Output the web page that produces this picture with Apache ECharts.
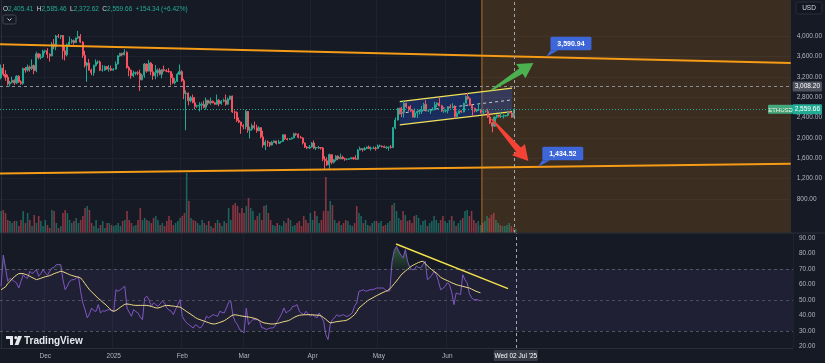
<!DOCTYPE html>
<html><head><meta charset="utf-8">
<script src="https://cdn.jsdelivr.net/npm/echarts@6/dist/echarts.min.js"></script>
<style>html,body{margin:0;padding:0;background:#161a25;overflow:hidden}#c{width:825px;height:363px}</style>
</head><body><div id="c"></div>
<script>
// ---------------- DATA ----------------
const startDate = '2024-11-11';
const dayCount = 359;
const tickDates = ['2024-12-01','2025-01-01','2025-02-01','2025-03-01','2025-04-01','2025-05-01','2025-06-01'];
const tickTexts = ['Dec','2025','Feb','Mar','Apr','May','Jun'];
const priceTicks = [800,1200,1600,2000,2400,2800,3200,3600,4000];
const rsiTicks = [20,30,40,50,60,70,80,90];

// [open, close, low, high]
const candles = [
[3180,3370,3150,3440],[3370,3250,3210,3450],[3250,3190,3120,3330],[3190,3060,3030,3240],[3060,3090,3010,3120],
[3090,3130,3070,3200],[3130,3080,3040,3150],[3080,3210,3060,3230],[3210,3100,3080,3230],[3100,3070,3040,3130],
[3070,3360,3040,3380],[3360,3330,3280,3390],[3330,3390,3300,3440],[3390,3360,3300,3420],[3360,3420,3330,3540],
[3420,3320,3250,3440],[3320,3650,3290,3690],[3650,3580,3540,3660],[3580,3590,3540,3650],[3590,3700,3570,3730],
[3700,3710,3660,3730],[3710,3640,3560,3760],[3640,3610,3500,3660],[3610,3840,3600,3880],[3840,3790,3740,3940],
[3790,4000,3720,4020],[4000,3990,3960,4040],[3990,4010,3940,4020],[4010,3710,3540,4010],[3710,3630,3520,3790],
[3630,3830,3600,3850],[3830,3880,3820,3990],[3880,3910,3850,3940],[3910,3870,3830,3930],[3870,3960,3860,3970],
[3960,3990,3940,4100],[3990,3880,3860,4040],[3880,3620,3570,3900],[3620,3420,3380,3710],[3420,3470,3100,3490],
[3470,3330,3320,3550],[3330,3280,3230,3360],[3280,3420,3220,3440],[3420,3490,3400,3540],[3490,3490,3450,3520],
[3490,3330,3310,3520],[3330,3330,3300,3430],[3330,3400,3320,3420],[3400,3350,3340,3410],[3350,3360,3300,3430],
[3360,3330,3310,3420],
[3330,3350,3320,3370],[3350,3450,3340,3500],[3450,3610,3440,3620],[3610,3660,3590,3670],[3660,3630,3600,3670],
[3630,3680,3620,3740],[3680,3380,3360,3700],[3380,3330,3210,3410],[3330,3220,3160,3340],[3220,3270,3190,3320],
[3270,3280,3230,3300],[3280,3270,3230,3310],[3270,3140,2920,3340],[3140,3230,3130,3260],[3230,3450,3180,3470],
[3450,3310,3280,3460],[3310,3470,3310,3530],[3470,3300,3230,3490],[3300,3220,3140,3450],[3220,3280,3150,3430],
[3280,3330,3200,3360],[3330,3250,3230,3370],[3250,3340,3170,3350],[3340,3320,3300,3420],[3320,3310,3290,3350],
[3310,3300,3280,3370],[3300,3180,3030,3310],[3180,3080,3060,3260],[3080,3110,3050,3170],[3110,3250,3100,3280],
[3250,3300,3240,3440],
[3300,3120,3100,3330],[3120,2870,2760,3160],[2870,2880,2150,2930],[2880,2730,2640,2890],[2730,2790,2700,2820],
[2790,2690,2680,2850],[2690,2620,2560,2800],[2620,2630,2590,2650],[2630,2640,2520,2700],[2640,2660,2560,2700],
[2660,2600,2580,2730],[2600,2740,2550,2790],[2740,2680,2640,2740],[2680,2720,2650,2790],[2720,2690,2680,2730],
[2690,2660,2650,2700],[2660,2740,2650,2850],[2740,2670,2620,2760],[2670,2720,2650,2740],[2720,2740,2700,2770],
[2740,2660,2630,2850],[2660,2760,2650,2790],[2760,2820,2740,2830],[2820,2510,2490,2830],[2510,2500,2370,2540],
[2500,2340,2310,2520],[2340,2310,2290,2400],[2310,2240,2080,2320],
[2240,2220,2170,2270],[2220,2520,2170,2550],[2520,2150,2100,2530],[2150,2170,1990,2220],[2170,2240,2140,2280],
[2240,2200,2160,2320],[2200,2140,2100,2260],[2140,2200,2130,2230],[2200,2020,1990,2210],[2020,1860,1810,2140],
[1860,1920,1760,1960],[1920,1910,1830,1950],[1910,1860,1820,1920],[1860,1910,1850,1940],[1910,1940,1900,1950],
[1940,1890,1870,1940],[1890,1920,1880,1960],[1920,1930,1890,1940],[1930,2060,1920,2070],[2060,1980,1960,2070],
[1980,1970,1950,2000],[1970,1980,1960,2000],[1980,2000,1970,2010],[2000,2080,1990,2100],[2080,2070,2040,2100],
[2070,2010,1990,2090],[2010,2000,1990,2040],[2000,1900,1870,2010],[1900,1820,1800,1910],[1820,1800,1780,1840],
[1800,1820,1780,1860],
[1820,1900,1810,1920],[1900,1800,1780,1950],[1800,1810,1760,1830],[1810,1810,1780,1840],[1810,1800,1770,1820],
[1800,1580,1540,1820],[1580,1550,1390,1640],[1550,1470,1450,1620],[1470,1670,1390,1690],[1670,1520,1480,1670],
[1520,1570,1500,1580],[1570,1640,1540,1660],[1640,1590,1560,1660],[1590,1620,1580,1690],[1620,1590,1580,1650],
[1590,1580,1550,1610],[1580,1580,1560,1600],[1580,1590,1570,1600],[1590,1610,1580,1620],[1610,1590,1570,1620],
[1590,1580,1570,1660],[1580,1760,1570,1780],[1760,1790,1760,1830],[1790,1770,1730,1790],[1770,1790,1750,1820],
[1790,1820,1780,1830],[1820,1790,1780,1850],[1790,1800,1750,1830],[1800,1800,1780,1830],[1800,1790,1750,1830],
[1790,1840,1790,1870],[1840,1840,1820,1870],[1840,1830,1810,1850],[1830,1810,1800,1850],[1810,1820,1780,1830],
[1820,1820,1750,1830],[1820,1810,1790,1860],[1810,2200,1800,2210],[2200,2350,2170,2400],[2350,2580,2340,2590],
[2580,2510,2460,2590],[2510,2500,2410,2610],[2500,2680,2400,2730],[2680,2610,2580,2690],[2610,2550,2520,2620],
[2550,2540,2510,2640],[2540,2410,2400,2560],[2410,2490,2390,2580],[2490,2520,2390,2530],[2520,2520,2460,2560],
[2520,2550,2470,2630],[2550,2660,2540,2690],[2660,2530,2520,2740],[2530,2530,2510,2560],[2530,2550,2470,2560],
[2550,2560,2540,2600],[2560,2650,2540,2710],[2650,2680,2600,2700],[2680,2630,2620,2790],[2630,2530,2510,2650],
[2530,2530,2490,2550],
[2530,2540,2500,2560],[2540,2610,2480,2620],[2610,2590,2580,2660],[2590,2610,2580,2680],[2610,2420,2380,2640],
[2420,2480,2400,2520],[2480,2530,2470,2540],[2530,2510,2490,2540],[2510,2680,2500,2690],[2680,2810,2680,2830],
[2810,2770,2750,2880],[2770,2640,2630,2790],[2640,2580,2440,2640],[2580,2530,2500,2590],[2530,2550,2510,2560],
[2550,2550,2530,2680],[2550,2510,2480,2570],[2510,2520,2470,2540],[2520,2520,2500,2540],[2520,2410,2390,2570],
[2410,2300,2270,2440],[2300,2230,2110,2310],[2230,2410,2220,2420],[2410,2450,2380,2460],[2450,2420,2400,2450],
[2420,2420,2390,2500],[2420,2430,2380,2460],[2430,2440,2420,2450],[2440,2510,2420,2520],[2510,2490,2480,2530],
[2490,2405.41,2390,2510],[2405.41,2559.66,2372.62,2585.46]
];

// volume, thousands
const volumes = [
440,460,400,260,240,200,240,240,140,260,
440,200,400,260,140,360,200,340,240,140,
260,160,100,460,440,200,100,140,400,460,
400,260,200,240,300,200,260,340,500,540,
460,200,140,260,100,160,240,100,200,200,160,
140,160,200,140,240,260,440,260,200,140,160,
260,500,260,300,260,240,200,300,340,260,160,
200,140,240,340,260,160,200,240,300,
340,400,1200,640,300,260,240,200,160,
260,200,160,240,140,100,200,260,200,140,
240,200,500,260,560,600,540,400,500,400,
540,700,500,440,260,340,400,260,540,560,
400,260,160,140,200,160,140,240,200,300,
260,140,160,200,240,140,340,260,200,400,
260,440,340,200,260,440,1120,440,640,560,
260,200,240,160,200,260,240,160,140,200,
540,400,340,200,260,160,140,200,240,240,
200,240,140,160,200,240,560,600,440,300,
260,440,360,240,260,200,340,360,300,160,
240,260,140,200,240,340,260,200,260,340,240,
200,260,340,240,140,200,260,300,440,460,340,
440,260,200,240,160,200,240,340,300,360,
400,260,200,160,140,140,160,200,140,100,84.11
];

const rsi = [
58.8,79,70.6,62,64,63,62,61,57.7,62,
66.3,64.5,64,68.5,67,68,69.6,65.3,67,69.6,
67.4,66,68.5,70.6,71,72.8,72.8,72.8,63.1,56.6,
59,62,63,63.1,64,65.3,55.6,48,43.8,38.4,
41,44.8,43,42.7,47,41.6,43,42.7,43.5,43.8,
43,42.7,56.6,55.6,56.6,57.7,58.8,44.8,42,39.5,
43.8,42.5,41.6,39,37.3,51.3,52.4,50,45.9,48.1,
47,45.9,47.5,49.2,48.1,44.8,43.5,42.7,40.5,44,
47,50.2,39.5,37,35.2,34.1,33,31.9,34.1,33,
31.9,33,36,39.5,38.4,39.5,40.5,40,39.5,42.7,
42,41.6,44.8,48.5,49.2,39.5,36,34.1,30.9,30,
28.7,44.8,34.1,36,37.3,37.3,37.3,36.2,32,31.9,
30.9,31.5,31.9,31.9,33,36,38.4,41,44.8,41.6,
42.7,43.5,45.9,46,47,42.7,41.5,40.5,42.7,41,
39.5,40.5,39.5,38.4,41.6,39,36.2,27.6,24.4,34.1,
37.3,38.5,40.5,39.5,40,40.5,39.5,39.5,40.5,41.6,
46,48.1,55.6,56,56.6,55.6,56,56.6,56.6,57,
57.7,57.7,57.7,57.7,56.5,55.6,56,75,82,84.6,
81.4,79,77.1,82.5,75,71,69.6,69.6,71.8,71,
70.7,73,75,63.1,64.2,66,68.5,66.3,62,56.6,
57.5,58.8,61,59.9,55,47,54.5,54,53.5,66.3,
63,61,54,51.3,50.2,50.2,50,49.26
];

const rsiMa = [
56.6,57.5,58.5,60.5,62,63.5,65,66,67,67,
67,66.5,66,65.3,64.5,63.8,63.1,63.5,64,64.5,
65,65.3,65.7,66.3,67,67.5,68,68.5,68.2,67.6,
67,66.3,65.8,65.4,65,64.6,64.2,62.5,60.5,58.5,
56.6,55.2,53.8,52.4,51,49.8,48.5,47.4,46,44.6,
43.3,42.7,43.2,44.2,45.3,46.3,47.2,47.4,47.2,46.9,
46.6,46.5,46.5,46.5,46.5,46.5,46.5,46.2,45.8,45.4,
44.9,44.8,45.2,45.8,46.3,46.5,46.4,46.2,46,45.8,
45.6,45.4,44.5,43.5,42.5,41.6,40.6,39.6,38.6,37.8,
37.3,36.8,36.3,35.8,35.3,34.8,34.5,34.6,35,35.5,
36,36.6,37.5,38.5,39.5,40.3,40.4,40.2,39.9,39.6,
39.4,39.2,39,38.7,38.4,38,37.5,36.7,35.8,35.2,
35,34.7,34.5,34.5,34.6,34.9,35.2,35.6,36,36.3,
36.6,37.3,38.2,39,39.6,40.1,40.3,40.4,40.5,40.5,
40.5,40.4,40.3,40.2,40.1,39.6,38.6,37.5,36.2,35.2,
35.4,35.7,36,36.2,36.4,36.6,36.7,37.3,38.2,39.3,
40.5,42.5,44.8,46,47.2,48.4,49.6,50.4,51.2,52,
52.8,53.5,54.2,54.9,55.5,56.1,57.2,58.8,60.5,62.2,
64,66,67.4,68.6,69.8,71,72,72.8,73.5,74.2,
74.7,75,73.5,72,70.7,69.5,68.4,67.4,66,64.6,
63.8,63.1,62.5,61.8,61.1,60.5,59.9,59.5,59.1,58.8,
58.4,58,57.7,57,56.3,55.6,55.1,54.61
];

const lastPrice = 2559.66;
const crossPrice = 3008.20;
const crossDate = '2025-07-02';
const crossLabel = "Wed 02 Jul '25";
const lastVolume = 84.11;
const header = ['2,405.41','2,585.46','2,372.62','2,559.66','+154.34 (+6.42%)'];

// drawings in (day index, price) space
const trendLines = [[-0.5,3840,358.5,3470],[-0.5,1300,358.5,1490]];
const channel = [[181,2712,232,2975,2255,2516]];
const arrows = [[222.7,2940,241.7,3470],[222.7,2370,239.4,1546]];
const arrowColors = ['#4caf50','#f44336'];
const callouts = [[247.6,3590.94],[243.9,1434.52]];
const calloutTexts = ['3,590.94','1,434.52'];
const projection = [[218.3,2000]];
const rsiTrend = [[178.8,86.1,229.5,57.3]];

// ---------------- CHART ----------------
const up = '#22ab94', down = '#f7525f', txt = '#b2b5be', gridCol = '#1e2230';
const FONT = '"Liberation Sans", Arial, sans-serif';
const dates = [];
const d0 = new Date(startDate + 'T00:00:00Z');
for (let i = 0; i < dayCount; i++) dates.push(new Date(d0.getTime() + i * 86400000).toISOString().slice(0, 10));
const fmt = v => Number(v).toLocaleString('en-US', {minimumFractionDigits: 2, maximumFractionDigits: 2});
const isTick = (i, v) => tickDates.indexOf(v) >= 0;

const volData = volumes.map((v, i) => ({value: v, itemStyle: {color: candles[i][1] >= candles[i][0] ? 'rgba(34,171,148,0.5)' : 'rgba(247,82,95,0.5)'}}));
const obData = rsi.map(v => v > 70 ? v : 70);

const tagLabel = (text, bg, color) => ({show: true, position: 'end', formatter: text, backgroundColor: bg, color: color || '#fff',
  fontSize: 6.5, fontFamily: FONT, padding: [2, 2, 1, 2], distance: 2, borderRadius: 1});
const hidden = {opacity: 0};

const chart = echarts.init(document.getElementById('c'), null, {renderer: 'canvas'});
const option = {
  backgroundColor: '#161a25',
  animation: false,
  textStyle: {fontFamily: FONT},
  grid: [
    {left: 0, right: 32, top: 0, height: 233},
    {left: 0, right: 32, top: 100, height: 133},
    {left: 0, right: 32, top: 233, height: 115}
  ],
  xAxis: [
    {type: 'category', gridIndex: 0, data: dates, boundaryGap: true, axisLine: {show: false}, axisTick: {show: false}, axisLabel: {show: false},
      splitLine: {show: true, interval: isTick, lineStyle: {color: gridCol}}},
    {type: 'value', gridIndex: 0, min: -0.5, max: dayCount - 0.5, show: false},
    {type: 'category', gridIndex: 1, data: dates, boundaryGap: true, show: false},
    {type: 'category', gridIndex: 2, data: dates, boundaryGap: true, axisLine: {show: true, lineStyle: {color: '#2a2e39'}}, axisTick: {show: false},
      axisLabel: {show: true, interval: isTick, formatter: v => tickTexts[tickDates.indexOf(v)] || '', color: txt, fontSize: 6.5, margin: 5, fontFamily: FONT},
      splitLine: {show: true, interval: isTick, lineStyle: {color: gridCol}}},
    {type: 'value', gridIndex: 2, min: -0.5, max: dayCount - 0.5, show: false}
  ],
  yAxis: [
    {type: 'value', gridIndex: 0, position: 'right', min: 132.7, max: 4706.7, scale: true,
      axisLine: {show: true, lineStyle: {color: '#2a2e39'}}, axisTick: {show: false, customValues: priceTicks},
      axisLabel: {customValues: priceTicks, formatter: v => fmt(v), color: txt, fontSize: 6.5, margin: 6, fontFamily: FONT},
      splitLine: {show: true, lineStyle: {color: gridCol}}},
    {type: 'value', gridIndex: 1, min: 0, max: 2660, show: false},
    {type: 'value', gridIndex: 2, position: 'right', min: 19, max: 93.2,
      axisLine: {show: true, lineStyle: {color: '#2a2e39'}}, axisTick: {show: false, customValues: rsiTicks},
      axisLabel: {customValues: rsiTicks, formatter: v => v.toFixed(2), color: txt, fontSize: 6.5, margin: 6, fontFamily: FONT},
      splitLine: {show: false}}
  ],
  series: [
    { // projection zone
      type: 'custom', xAxisIndex: 1, yAxisIndex: 0, z: 1, silent: true, data: projection, encode: {x: 0, y: 1},
      renderItem: (params, api) => {
        const cs = params.coordSys;
        const x0 = api.coord([api.value(0), api.value(1)])[0];
        return {type: 'group', children: [
          {type: 'rect', shape: {x: x0, y: cs.y, width: cs.x + cs.width - x0, height: cs.height}, style: {fill: 'rgba(255,152,0,0.16)'}},
          {type: 'line', shape: {x1: x0, y1: cs.y, x2: x0, y2: cs.y + cs.height}, style: {stroke: '#b8731a', lineWidth: 1}}
        ]};
      }
    },
    { // channel
      type: 'custom', xAxisIndex: 1, yAxisIndex: 0, z: 2, silent: true, data: channel, encode: {x: [0, 2], y: [1, 3, 4, 5]},
      renderItem: (params, api) => {
        const x0 = api.value(0), x1 = api.value(2);
        const u0 = api.coord([x0, api.value(1)]), u1 = api.coord([x1, api.value(3)]);
        const l0 = api.coord([x0, api.value(4)]), l1 = api.coord([x1, api.value(5)]);
        const m0 = [(u0[0] + l0[0]) / 2, (u0[1] + l0[1]) / 2], m1 = [(u1[0] + l1[0]) / 2, (u1[1] + l1[1]) / 2];
        return {type: 'group', children: [
          {type: 'polygon', shape: {points: [u0, u1, l1, l0]}, style: {fill: 'rgba(41,98,255,0.25)'}},
          {type: 'line', shape: {x1: m0[0], y1: m0[1], x2: m1[0], y2: m1[1]}, style: {stroke: '#c8c8d0', lineWidth: 1, lineDash: [3, 3]}},
          {type: 'line', shape: {x1: u0[0], y1: u0[1], x2: u1[0], y2: u1[1]}, style: {stroke: '#f2e05a', lineWidth: 1.3}},
          {type: 'line', shape: {x1: l0[0], y1: l0[1], x2: l1[0], y2: l1[1]}, style: {stroke: '#f2e05a', lineWidth: 1.3}}
        ]};
      }
    },
    { // volume
      type: 'bar', xAxisIndex: 2, yAxisIndex: 1, data: volData, barWidth: 1.6, z: 2, silent: true,
      markLine: {silent: true, symbol: ['none', 'none'], animation: false,
        data: [{yAxis: lastVolume, lineStyle: hidden, label: tagLabel(lastVolume.toFixed(2) + 'K', up)}]}
    },
    { // candles
      type: 'candlestick', xAxisIndex: 0, yAxisIndex: 0, data: candles, barWidth: 1.6, z: 3, silent: true,
      itemStyle: {color: up, color0: down, borderColor: up, borderColor0: down, borderWidth: 1},
      markLine: {silent: true, symbol: ['none', 'none'], animation: false, data: [
        {yAxis: crossPrice, lineStyle: {color: '#8d909a', type: [3, 3], width: 1}, label: tagLabel(fmt(crossPrice), '#4f535f')},
        {yAxis: lastPrice, lineStyle: {color: up, type: [1, 2], width: 1}, label: tagLabel(fmt(lastPrice), up)},
        {xAxis: crossDate, lineStyle: {color: '#a3a6af', type: [3, 3], width: 1}, label: {show: false}}
      ]}
    },
    { // long trend lines
      type: 'custom', xAxisIndex: 1, yAxisIndex: 0, z: 4, silent: true, data: trendLines, encode: {x: [0, 2], y: [1, 3]},
      renderItem: (params, api) => {
        const a = api.coord([api.value(0), api.value(1)]), b = api.coord([api.value(2), api.value(3)]);
        return {type: 'line', shape: {x1: a[0], y1: a[1], x2: b[0], y2: b[1]}, style: {stroke: '#f59b16', lineWidth: 2}};
      }
    },
    { // arrows
      type: 'custom', xAxisIndex: 1, yAxisIndex: 0, z: 5, silent: true, data: arrows, encode: {x: [0, 2], y: [1, 3]},
      renderItem: (params, api) => {
        const t = api.coord([api.value(0), api.value(1)]), h = api.coord([api.value(2), api.value(3)]);
        const dx = h[0] - t[0], dy = h[1] - t[1], len = Math.hypot(dx, dy), ux = dx / len, uy = dy / len, nx = -uy, ny = ux;
        const headLen = 15, headW = 8.5, shaftW = 3.2, tailW = 0.8;
        const b = [h[0] - ux * headLen, h[1] - uy * headLen];
        const pts = [
          [t[0] + nx * tailW, t[1] + ny * tailW], [b[0] + nx * shaftW, b[1] + ny * shaftW], [b[0] + nx * headW, b[1] + ny * headW],
          h, [b[0] - nx * headW, b[1] - ny * headW], [b[0] - nx * shaftW, b[1] - ny * shaftW], [t[0] - nx * tailW, t[1] - ny * tailW]
        ];
        return {type: 'polygon', shape: {points: pts}, style: {fill: arrowColors[params.dataIndex]}};
      }
    },
    { // callouts
      type: 'custom', xAxisIndex: 1, yAxisIndex: 0, z: 6, silent: true, data: callouts, encode: {x: 0, y: 1},
      renderItem: (params, api) => {
        const a = api.coord([api.value(0), api.value(1)]);
        const bx = a[0] + 4, by = a[1] - 20, bw = 41, bh = 13.5;
        return {type: 'group', children: [
          {type: 'polygon', shape: {points: [a, [bx, by + bh], [bx + 8, by + bh]]}, style: {fill: '#3d66d8'}},
          {type: 'rect', shape: {x: bx, y: by, width: bw, height: bh, r: 1.5}, style: {fill: '#3d66d8'}},
          {type: 'text', style: {text: calloutTexts[params.dataIndex], x: bx + bw / 2, y: by + bh / 2 + 0.5, align: 'center', verticalAlign: 'middle',
            fill: '#ffffff', font: '600 7px ' + FONT}}
        ]};
      }
    },
    { // RSI overbought fill
      type: 'line', xAxisIndex: 3, yAxisIndex: 2, data: obData, symbol: 'none', silent: true, z: 2,
      lineStyle: {width: 0, opacity: 0},
      areaStyle: {origin: 70, color: new echarts.graphic.LinearGradient(0, 0, 0, 1, [
        {offset: 0, color: 'rgba(76,175,80,0.65)'}, {offset: 1, color: 'rgba(76,175,80,0.1)'}])}
    },
    { // RSI
      type: 'line', xAxisIndex: 3, yAxisIndex: 2, data: rsi, symbol: 'none', silent: true, z: 3,
      lineStyle: {color: '#7e57c2', width: 1},
      markArea: {silent: true, itemStyle: {color: 'rgba(126,87,194,0.1)'}, data: [[{yAxis: 30}, {yAxis: 70}]]},
      markLine: {silent: true, symbol: ['none', 'none'], animation: false, data: [
        {yAxis: 70, lineStyle: {color: '#787b86', type: [3, 3], width: 1, opacity: 0.6}, label: {show: false}},
        {yAxis: 50, lineStyle: {color: '#787b86', type: [3, 3], width: 1, opacity: 0.5}, label: {show: false}},
        {yAxis: 30, lineStyle: {color: '#787b86', type: [3, 3], width: 1, opacity: 0.6}, label: {show: false}},
        {yAxis: rsi[rsi.length - 1], lineStyle: hidden, label: tagLabel(rsi[rsi.length - 1].toFixed(2), '#7e57c2')},
        {xAxis: crossDate, lineStyle: {color: '#a3a6af', type: [3, 3], width: 1}, label: {show: false}}
      ]}
    },
    { // RSI-based MA
      type: 'line', xAxisIndex: 3, yAxisIndex: 2, data: rsiMa, symbol: 'none', silent: true, z: 4,
      lineStyle: {color: '#f1dc84', width: 1},
      markLine: {silent: true, symbol: ['none', 'none'], animation: false, data: [
        {yAxis: rsiMa[rsiMa.length - 1], lineStyle: hidden, label: tagLabel(rsiMa[rsiMa.length - 1].toFixed(2), '#f5d33f', '#131722')}
      ]}
    },
    { // RSI trend line
      type: 'custom', xAxisIndex: 4, yAxisIndex: 2, z: 5, silent: true, data: rsiTrend, encode: {x: [0, 2], y: [1, 3]},
      renderItem: (params, api) => {
        const a = api.coord([api.value(0), api.value(1)]), b = api.coord([api.value(2), api.value(3)]);
        return {type: 'line', shape: {x1: a[0], y1: a[1], x2: b[0], y2: b[1]}, style: {stroke: '#f3e14b', lineWidth: 1.5}};
      }
    }
  ]
};
chart.setOption(option);

const yLast = chart.convertToPixel({yAxisIndex: 0}, lastPrice);
const xCross = chart.convertToPixel({xAxisIndex: 3}, crossDate);
chart.setOption({graphic: [
  {type: 'rect', z: 50, shape: {x: 0, y: 232.5, width: 825, height: 1}, style: {fill: '#2a2e39'}},
  {type: 'text', z: 50, x: 3, y: 3, style: {
    text: '{k|O}{v|' + header[0] + '} {k|H}{v|' + header[1] + '} {k|L}{v|' + header[2] + '} {k|C}{v|' + header[3] + '} {v|' + header[4] + '}',
    rich: {k: {fill: '#d1d4dc', fontSize: 6.5, fontFamily: FONT}, v: {fill: up, fontSize: 6.5, fontFamily: FONT}}}},
  {type: 'group', z: 50, x: 3, y: 15, children: [
    {type: 'rect', shape: {x: 0, y: 0, width: 13, height: 9, r: 1.5}, style: {fill: '#161a25', stroke: '#434651', lineWidth: 1}},
    {type: 'polyline', shape: {points: [[4.5, 3.5], [6.5, 5.5], [8.5, 3.5]]}, style: {stroke: '#d1d4dc', lineWidth: 1, fill: null}}
  ]},
  {type: 'group', z: 50, x: 796, y: 2, children: [
    {type: 'rect', shape: {x: 0, y: 0, width: 26, height: 12, r: 2}, style: {fill: '#131722', stroke: '#2a2e39', lineWidth: 1}},
    {type: 'text', style: {text: 'USD', x: 13, y: 6.5, align: 'center', verticalAlign: 'middle', fill: '#d1d4dc', font: '6.5px ' + FONT}}
  ]},
  {type: 'group', z: 50, x: 768, y: yLast - 4.5, children: [
    {type: 'rect', shape: {x: 0, y: 0, width: 25, height: 9, r: 1}, style: {fill: up}},
    {type: 'text', style: {text: 'ETHUSD', x: 12.5, y: 5, align: 'center', verticalAlign: 'middle', fill: '#ffffff', font: '6px ' + FONT}}
  ]},
  {type: 'group', z: 50, x: xCross - 22, y: 350, children: [
    {type: 'rect', shape: {x: 0, y: 0, width: 44, height: 11, r: 1}, style: {fill: '#363a45'}},
    {type: 'text', style: {text: crossLabel, x: 22, y: 6, align: 'center', verticalAlign: 'middle', fill: '#ffffff', font: '6.5px ' + FONT}}
  ]},
  {type: 'group', z: 50, x: 6, y: 336, children: [
    {type: 'rect', shape: {x: 0, y: 0, width: 7, height: 3}, style: {fill: '#e6e8ee'}},
    {type: 'rect', shape: {x: 4, y: 0, width: 3, height: 9}, style: {fill: '#e6e8ee'}},
    {type: 'circle', shape: {cx: 9.8, cy: 1.6, r: 1.6}, style: {fill: '#e6e8ee'}},
    {type: 'polygon', shape: {points: [[12, 0], [16, 0], [12.4, 9], [8.6, 9]]}, style: {fill: '#e6e8ee'}},
    {type: 'text', style: {text: 'TradingView', x: 18, y: 4.8, verticalAlign: 'middle', fill: '#e6e8ee', font: 'bold 10px ' + FONT}}
  ]}
]});
</script>
</body></html>
